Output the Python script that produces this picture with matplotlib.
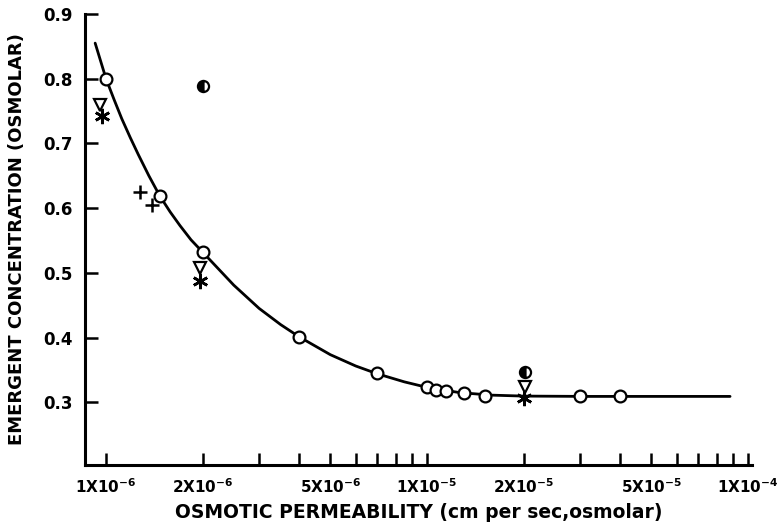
import matplotlib
matplotlib.use("Agg")
import matplotlib.pyplot as plt
import numpy as np
from matplotlib.ticker import FixedLocator, NullFormatter

plt.rcParams['font.family'] = ['DejaVu Sans']
plt.rcParams['mathtext.fontset'] = 'custom'
plt.rcParams['mathtext.bf'] = 'DejaVu Sans:bold'
plt.rcParams['mathtext.rm'] = 'DejaVu Sans:bold'
plt.rcParams['mathtext.default'] = 'bf'

# fitted curve
curve_x = [0.925e-6, 1.0e-6, 1.06e-6, 1.12e-6, 1.19e-6, 1.26e-6, 1.36e-6, 1.47e-6,
           1.585e-6, 1.7e-6, 1.84e-6, 2.0e-6, 2.5e-6, 3.0e-6, 3.5e-6, 4.0e-6,
           5.0e-6, 6.0e-6, 7.0e-6, 8.5e-6, 1.0e-5, 1.26e-5, 1.58e-5, 2.0e-5,
           3.16e-5, 8.8e-5]
curve_y = [0.855, 0.800, 0.7675, 0.738, 0.709, 0.683, 0.650, 0.619,
           0.594, 0.573, 0.551, 0.532, 0.481, 0.445, 0.420, 0.401,
           0.3735, 0.356, 0.344, 0.3315, 0.323, 0.315, 0.311, 0.3095,
           0.309, 0.309]

# open circles
circ_x = [1.0e-6, 1.47e-6, 2.0e-6, 4.0e-6, 7.0e-6, 1.0e-5, 1.07e-5, 1.15e-5,
          1.3e-5, 1.52e-5, 3.0e-5, 4.0e-5]
circ_y = [0.800, 0.618, 0.532, 0.401, 0.345, 0.324, 0.319, 0.317,
          0.3145, 0.310, 0.310, 0.309]

# open triangles
tri_x = [0.96e-6, 1.96e-6, 2.02e-5]
tri_y = [0.760, 0.507, 0.323]

# asterisks
ast_x = [0.97e-6, 1.96e-6, 2.0e-5]
ast_y = [0.742, 0.487, 0.306]

# half-filled circles
half_x = [2.0e-6, 2.02e-5]
half_y = [0.788, 0.346]

# crosses
plus_x = [1.28e-6, 1.39e-6]
plus_y = [0.625, 0.605]

x_major = [1e-6, 2e-6, 5e-6, 1e-5, 2e-5, 5e-5, 1e-4]
x_labels = [r'1X10$^{-6}$', r'2X10$^{-6}$', r'5X10$^{-6}$', r'1X10$^{-5}$',
            r'2X10$^{-5}$', r'5X10$^{-5}$', r'1X10$^{-4}$']
x_minor = [3e-6, 4e-6, 6e-6, 7e-6, 8e-6, 9e-6, 3e-5, 4e-5, 6e-5, 7e-5, 8e-5, 9e-5]
y_ticks = [0.3, 0.4, 0.5, 0.6, 0.7, 0.8, 0.9]

fig = plt.figure(figsize=(7.82, 5.27), dpi=100)
ax = fig.add_axes([85 / 782, 62 / 527, 667 / 782, 451 / 527])

ax.plot(curve_x, curve_y, color='black', lw=2.0, zorder=2,
        solid_joinstyle='round', solid_capstyle='round')
ax.plot(circ_x, circ_y, 'o', ms=8.5, mfc='white', mec='black', mew=1.6, zorder=3)
ax.plot(tri_x, tri_y, 'v', ms=9, mfc='white', mec='black', mew=1.6, zorder=3)
ax.plot(ast_x, ast_y, marker=(6, 2, 0), ls='none', ms=11, mec='black', mew=1.9, zorder=4)
ax.plot(half_x, half_y, 'o', ms=8, fillstyle='left', mfc='black',
        markerfacecoloralt='white', mec='black', mew=1.6, zorder=3)
ax.plot(plus_x, plus_y, '+', ms=10, mec='black', mew=1.8, zorder=3)

ax.set_xscale('log')
ax.set_xlim(8.6e-7, 1.03e-4)
ax.set_ylim(0.203, 0.9)

ax.xaxis.set_major_locator(FixedLocator(x_major))
ax.set_xticklabels(x_labels)
ax.xaxis.set_minor_locator(FixedLocator(x_minor))
ax.xaxis.set_minor_formatter(NullFormatter())
ax.set_yticks(y_ticks)
ax.set_yticklabels(['0.3', '0.4', '0.5', '0.6', '0.7', '0.8', '0.9'])

for s in ['top', 'right']:
    ax.spines[s].set_visible(False)
for s in ['left', 'bottom']:
    ax.spines[s].set_linewidth(2.2)

ax.tick_params(axis='x', which='both', direction='in', length=8.5, width=1.8, pad=9,
               labelsize=11)
ax.tick_params(axis='y', direction='in', length=9, width=1.8, pad=9, labelsize=12)
for lbl in ax.get_xticklabels() + ax.get_yticklabels():
    lbl.set_fontweight('bold')

ax.set_xlabel('OSMOTIC PERMEABILITY (cm per sec,osmolar)', fontsize=13.5,
              fontweight='bold', labelpad=5)
ax.set_ylabel('EMERGENT CONCENTRATION (OSMOLAR)', fontsize=13,
              fontweight='bold', labelpad=12)

fig.savefig('out.png', dpi=100)
